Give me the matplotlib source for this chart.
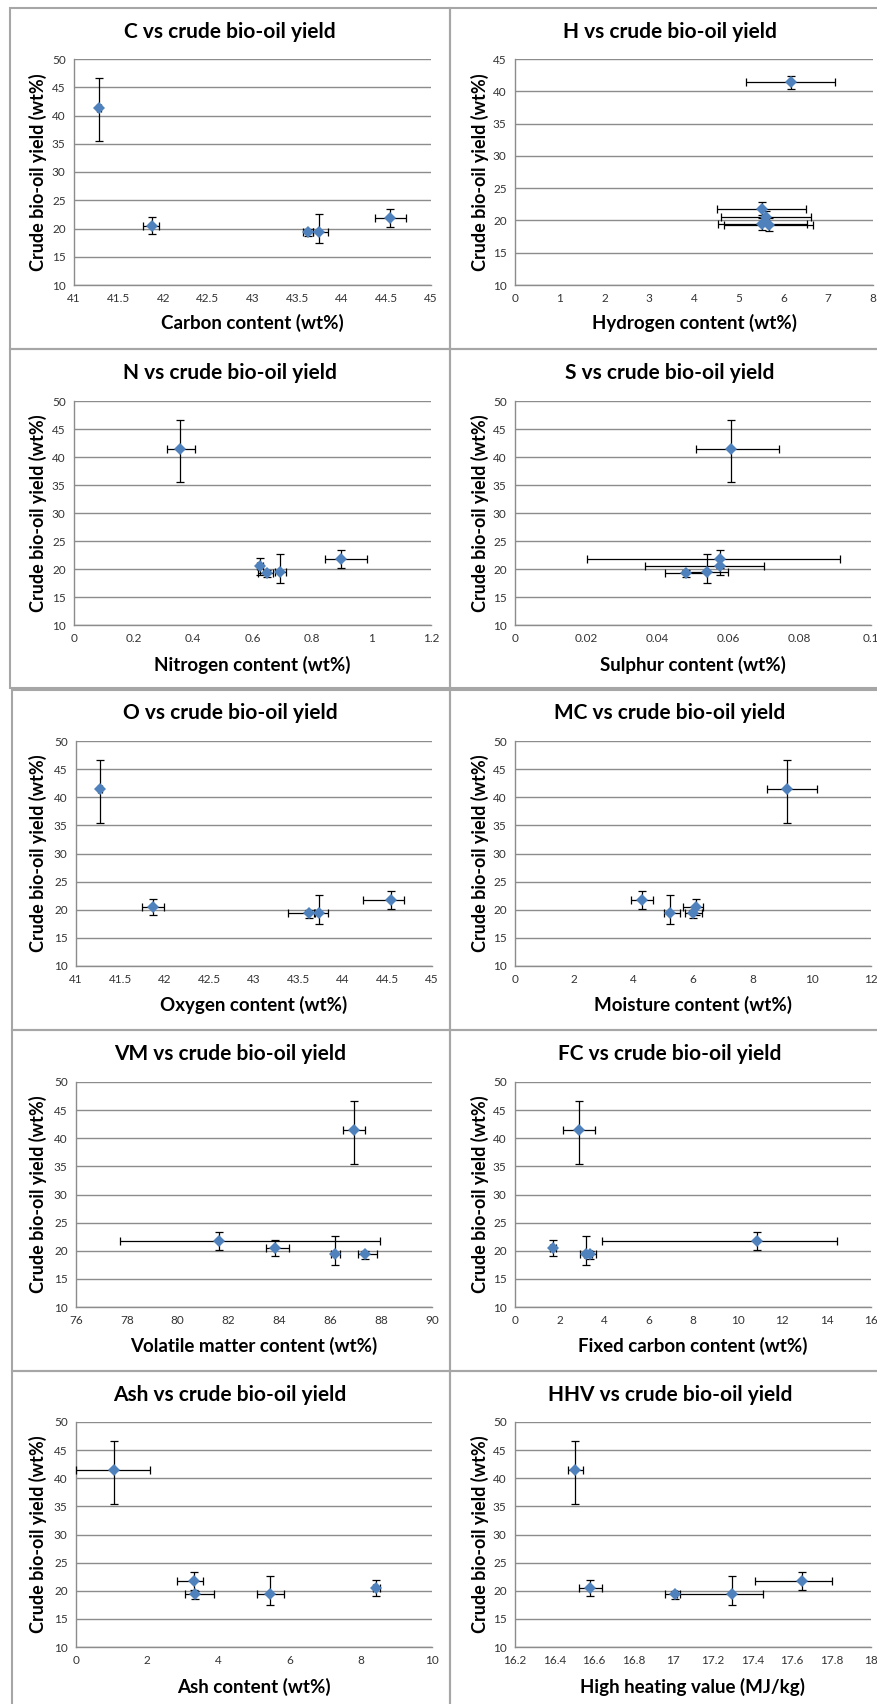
import matplotlib
matplotlib.use("Agg")
import matplotlib.pyplot as plt
from matplotlib.patches import Rectangle
from matplotlib.ticker import MultipleLocator, FuncFormatter

plt.rcParams['font.family'] = ['Lato', 'DejaVu Sans']

# ---------------- data (five samples) ----------------
yield_vals = [41.4, 20.5, 19.35, 19.45, 21.8]
yield_err_lo = [5.9, 1.5, 0.74, 2.0, 1.6]
yield_err_hi = [5.2, 1.5, 0.56, 3.2, 1.6]
h_yield_err = [1.0, 1.0, 1.0, 1.0, 1.0]

carbon = [41.28, 41.87, 43.62, 43.74, 44.54]
carbon_err_lo = [0.02, 0.097, 0.056, 0.06, 0.164]
carbon_err_hi = [0.02, 0.078, 0.056, 0.108, 0.183]

hydrogen = [6.16, 5.61, 5.67, 5.53, 5.51]
hydrogen_err = [1.0, 1.0, 1.0, 1.0, 1.0]

nitrogen = [0.355, 0.626, 0.650, 0.694, 0.896]
nitrogen_err_lo = [0.042, 0.01, 0.033, 0.017, 0.051]
nitrogen_err_hi = [0.053, 0.01, 0.02, 0.017, 0.089]

sulphur = [0.0608, 0.0576, 0.0480, 0.0538, 0.0577]
sulphur_err_lo = [0.0099, 0.021, 0.006, 0.006, 0.0374]
sulphur_err_hi = [0.0133, 0.0123, 0.006, 0.006, 0.0335]

oxygen = [41.27, 41.87, 43.62, 43.73, 44.54]
oxygen_err_lo = [0.02, 0.124, 0.236, 0.05, 0.31]
oxygen_err_hi = [0.02, 0.124, 0.05, 0.105, 0.15]

moisture = [9.17, 6.11, 6.01, 5.22, 4.27]
moisture_err_lo = [0.685, 0.45, 0.29, 0.21, 0.37]
moisture_err_hi = [1.0, 0.24, 0.29, 0.34, 0.37]

volatile = [86.92, 83.81, 87.36, 86.19, 81.61]
volatile_err_lo = [0.43, 0.32, 0.28, 0.18, 3.88]
volatile_err_hi = [0.43, 0.58, 0.46, 0.18, 6.36]

fixed_carbon = [2.89, 1.71, 3.36, 3.21, 10.88]
fixed_carbon_err_lo = [0.73, 0.15, 0.27, 0.27, 6.95]
fixed_carbon_err_hi = [0.69, 0.15, 0.27, 0.27, 3.61]

ash = [1.08, 8.43, 3.35, 5.46, 3.32]
ash_err_lo = [1.07, 0.1, 0.3, 0.37, 0.47]
ash_err_hi = [0.99, 0.1, 0.52, 0.37, 0.26]

hhv = [16.505, 16.581, 17.007, 17.299, 17.651]
hhv_err_lo = [0.038, 0.059, 0.049, 0.28, 0.24]
hhv_err_hi = [0.038, 0.059, 0.029, 0.155, 0.15]

titles = ["C vs crude bio-oil yield", "H vs crude bio-oil yield",
          "N vs crude bio-oil yield", "S vs crude bio-oil yield",
          "O vs crude bio-oil yield", "MC vs crude bio-oil yield",
          "VM vs crude bio-oil yield", "FC vs crude bio-oil yield",
          "Ash vs crude bio-oil yield", "HHV vs crude bio-oil yield"]
xlabels = ["Carbon content (wt%)", "Hydrogen content (wt%)",
           "Nitrogen content (wt%)", "Sulphur content (wt%)",
           "Oxygen content (wt%)", "Moisture content (wt%)",
           "Volatile matter content (wt%)", "Fixed carbon content (wt%)",
           "Ash content (wt%)", "High heating value (MJ/kg)"]
ylabel = "Crude bio-oil yield (wt%)"

yerr_std = [yield_err_lo, yield_err_hi]
panels = [
    (carbon, [carbon_err_lo, carbon_err_hi], yerr_std, (41, 45, 0.5), (10, 50)),
    (hydrogen, hydrogen_err, h_yield_err, (0, 8, 1), (10, 45)),
    (nitrogen, [nitrogen_err_lo, nitrogen_err_hi], yerr_std, (0, 1.2, 0.2), (10, 50)),
    (sulphur, [sulphur_err_lo, sulphur_err_hi], yerr_std, (0, 0.1, 0.02), (10, 50)),
    (oxygen, [oxygen_err_lo, oxygen_err_hi], yerr_std, (41, 45, 0.5), (10, 50)),
    (moisture, [moisture_err_lo, moisture_err_hi], yerr_std, (0, 12, 2), (10, 50)),
    (volatile, [volatile_err_lo, volatile_err_hi], yerr_std, (76, 90, 2), (10, 50)),
    (fixed_carbon, [fixed_carbon_err_lo, fixed_carbon_err_hi], yerr_std, (0, 16, 2), (10, 50)),
    (ash, [ash_err_lo, ash_err_hi], yerr_std, (0, 10, 2), (10, 50)),
    (hhv, [hhv_err_lo, hhv_err_hi], yerr_std, (16.2, 18, 0.2), (10, 50)),
]

# ---------------- layout (pixels) ----------------
W, H = 877, 1704
fig = plt.figure(figsize=(W / 100, H / 100), dpi=100)
fig.patch.set_facecolor('white')

row_tb = [(59, 285), (401, 625), (741, 966), (1082, 1307), (1422, 1647)]
col_lr = {0: [(74, 431), (74, 431), (76, 432), (76, 432), (76, 432)],
          1: [(515, 873), (515, 871), (515, 871), (515, 871), (515, 871)]}
title_y = [32, 373, 713, 1054, 1395]
xlabel_y = [323, 665, 1005, 1346, 1687]
title_x = {0: 230, 1: 670}
ylabel_x = {0: 38, 1: 480}

# panel borders
border_rows = [(8, 349), (349, 688), (690, 1030), (1030, 1371), (1371, 1710)]
border_left = [10, 10, 12, 12, 12]
BORDER = '#a6a6a6'
for i, (t, b) in enumerate(border_rows):
    for (l, r) in [(border_left[i], 450), (450, 900)]:
        rect = Rectangle((l / W, 1 - b / H), (r - l) / W, (b - t) / H,
                         transform=fig.transFigure, fill=False,
                         edgecolor=BORDER, linewidth=1.5, zorder=0)
        fig.add_artist(rect)

GRID = '#8c8c8c'
BLUE = '#4f81bd'


def fmt(v, pos):
    return format(round(v, 6), 'g')


for k, (xv, xerr, yerr, (x0, x1, xs), (y0, y1)) in enumerate(panels):
    row, col = divmod(k, 2)
    t, b = row_tb[row]
    l, r = col_lr[col][row]
    ax = fig.add_axes([l / W, 1 - b / H, (r - l) / W, (b - t) / H])
    ax.set_xlim(x0, x1)
    ax.set_ylim(y0, y1)
    ax.xaxis.set_major_locator(MultipleLocator(xs))
    ax.yaxis.set_major_locator(MultipleLocator(5))
    ax.xaxis.set_major_formatter(FuncFormatter(fmt))
    ax.yaxis.set_major_formatter(FuncFormatter(fmt))
    ax.grid(axis='y', color=GRID, linewidth=1.0)
    ax.set_axisbelow(True)
    for s in ['top', 'right']:
        ax.spines[s].set_visible(False)
    for s in ['left', 'bottom']:
        ax.spines[s].set_color(GRID)
        ax.spines[s].set_linewidth(1.0)
    ax.tick_params(length=0, labelsize=8.5, labelcolor='#333333', pad=6)
    ax.errorbar(xv, yield_vals, xerr=xerr, yerr=yerr, fmt='none',
                ecolor='black', elinewidth=0.9, capsize=2.8, capthick=0.9,
                clip_on=False, zorder=4)
    ax.plot(xv, yield_vals, linestyle='none', marker='D', color=BLUE,
            markersize=6.5, markeredgewidth=0, clip_on=False, zorder=5)
    ax.set_xlabel(xlabels[k], fontsize=13.5, fontweight='bold', va='center')
    ax.xaxis.set_label_coords(0.5, (b - xlabel_y[row]) / (b - t))
    ax.set_ylabel(ylabel, fontsize=13, fontweight='bold', va='center')
    ax.yaxis.set_label_coords((ylabel_x[col] - l) / (r - l), 0.5)
    fig.text(title_x[col] / W, 1 - title_y[row] / H, titles[k],
             fontsize=15, fontweight='bold', ha='center', va='center')

fig.savefig('out.png', dpi=100, facecolor='white')
